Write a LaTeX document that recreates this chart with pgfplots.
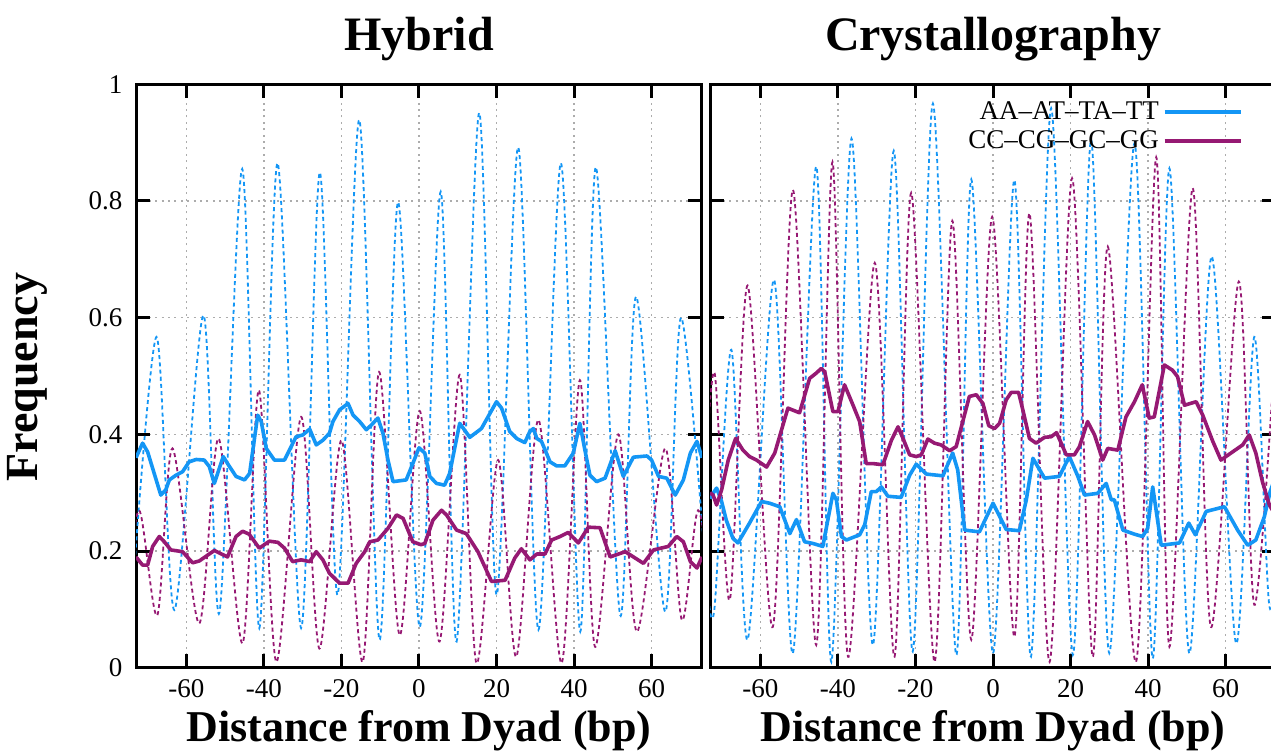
\documentclass[border=0pt]{standalone}
\usepackage{fontspec}
\setmainfont{Liberation Serif}
\usepackage{pgfplots}
\pgfplotsset{compat=1.18}

\definecolor{atblue}{RGB}{20,150,245}
\definecolor{gcpurple}{RGB}{150,25,115}

\pgfplotsset{
  dnapanel/.style={
    scale only axis, width=283pt, height=291.75pt,
    xmin=-73, xmax=73, ymin=0, ymax=1,
    xtick={-60,-40,...,60}, ytick={0,0.2,0.4,0.6,0.8,1},
    grid=major,
    major grid style={gray!65, line width=0.8pt, dash pattern=on 1pt off 2.2pt},
    axis line style={line width=1.5pt},
    every tick/.style={black, line width=1.5pt},
    major tick length=7pt,
    tick label style={font=\fontsize{13.5}{16}\selectfont},
    xticklabel style={yshift=-2.5pt},
    yticklabel style={xshift=-3.3pt},
    /pgf/number format/assume math mode=true,
  },
  raw/.style={line width=0.9pt, dash pattern=on 2pt off 1.6pt, smooth, tension=0.5, forget plot},
  avg/.style={line width=1.8pt, line join=round},
}

\begin{document}
\begin{tikzpicture}

% ---------------- Hybrid ----------------
\begin{axis}[dnapanel, at={(68pt,44.1pt)}, anchor=south west]
  % raw AA/AT/TA/TT
  \addplot[raw, atblue] coordinates {
    (-74,0.12) (-67.7,0.567) (-63.1,0.099) (-55.6,0.604) (-51.5,0.094) (-45.6,0.855)
    (-41.2,0.068) (-36.5,0.865) (-30.4,0.068) (-25.6,0.849) (-21,0.125) (-15.4,0.939)
    (-10.2,0.048) (-5.4,0.798) (0.2,0.07) (5.6,0.816) (9.7,0.045) (15.5,0.951)
    (20,0.125) (25.6,0.892) (30.8,0.065) (36.6,0.865) (41.6,0.062) (45.6,0.858)
    (51.9,0.09) (56,0.636) (63.5,0.096) (67.6,0.60) (74.5,0.12)
  };
  % raw CC/CG/GC/GG
  \addplot[raw, gcpurple] coordinates {
    (-76,0.1) (-72.2,0.27) (-67.5,0.09) (-63.6,0.376) (-56.7,0.076) (-51.7,0.393)
    (-45.5,0.042) (-41.3,0.476) (-36.8,0.01) (-30.4,0.43) (-25.7,0.033) (-20,0.39)
    (-14.5,0.01) (-10.3,0.507) (-5,0.056) (0.2,0.44) (5.3,0.045) (10.5,0.502)
    (14.8,0.008) (20.4,0.356) (25.1,0.019) (30.8,0.425) (36.8,0.008) (41.5,0.493)
    (45.4,0.036) (51.4,0.40) (56.2,0.062) (63.5,0.376) (67.8,0.082) (72,0.27) (76,0.1)
  };
  % averaged
  \addplot[avg, atblue] coordinates {
    (-73,0.36) (-71.3,0.385) (-70,0.37) (-66.6,0.296) (-65.3,0.305) (-64.4,0.322)
    (-62.7,0.33) (-61,0.336) (-59.3,0.353) (-57.5,0.357) (-55.4,0.356) (-54.1,0.345)
    (-52.8,0.316) (-50.5,0.362) (-48.9,0.345) (-47.2,0.328) (-45,0.322) (-43.7,0.333)
    (-41.6,0.433) (-40.7,0.422) (-39.4,0.376) (-37.3,0.356) (-34.7,0.356) (-31.7,0.396)
    (-30,0.399) (-28.2,0.409) (-26.5,0.382) (-24.8,0.39) (-23.1,0.402) (-22.2,0.422)
    (-20.5,0.442) (-18.3,0.453) (-17,0.433) (-15.3,0.422) (-13.6,0.408) (-12.3,0.416)
    (-10.6,0.428) (-9.3,0.402) (-8,0.356) (-6.7,0.319) (-3.3,0.322) (-1.6,0.35)
    (0,0.377) (1.5,0.368) (2.8,0.328) (4.5,0.316) (6.6,0.313) (7.9,0.333)
    (10.5,0.419) (13.1,0.395) (16.1,0.41) (20,0.456) (21.3,0.445) (23.4,0.405)
    (25.2,0.393) (27.3,0.386) (28.6,0.405) (29.5,0.41) (30.4,0.393) (31.6,0.388)
    (33.8,0.353) (35.5,0.346) (37.6,0.346) (39.8,0.368) (41.5,0.419) (42.8,0.373)
    (44.1,0.33) (45.8,0.319) (48,0.325) (50.6,0.372) (52.7,0.328) (55.3,0.361)
    (58.8,0.363) (60,0.356) (61.8,0.328) (63.9,0.325) (66.1,0.296) (68.2,0.322)
    (70,0.368) (71.7,0.388) (73,0.36)
  };
  \addplot[avg, gcpurple] coordinates {
    (-73,0.19) (-71.3,0.176) (-70,0.176) (-68.7,0.208) (-67,0.225) (-65.7,0.216)
    (-64,0.202) (-61,0.199) (-58.4,0.18) (-56.7,0.183) (-52.8,0.201) (-49.4,0.19)
    (-47.2,0.225) (-45.5,0.234) (-43.8,0.229) (-41.2,0.205) (-38.6,0.217) (-36.4,0.215)
    (-34.7,0.205) (-32.6,0.182) (-30.4,0.185) (-28.2,0.182) (-26.5,0.199) (-24.8,0.185)
    (-23.1,0.162) (-20.5,0.145) (-18.3,0.145) (-16.2,0.179) (-14,0.199) (-12.7,0.216)
    (-10.6,0.219) (-8,0.239) (-5.8,0.262) (-4.1,0.256) (-1.6,0.216) (0.5,0.211)
    (1.5,0.213) (3.6,0.253) (5.8,0.27) (7.1,0.262) (9.7,0.236) (12.2,0.23)
    (15.2,0.199) (18.7,0.148) (22.2,0.15) (24.7,0.188) (26.4,0.204) (28.6,0.185)
    (30.4,0.195) (32.5,0.195) (34.2,0.219) (36.4,0.225) (38.5,0.232) (41.1,0.214)
    (43.7,0.241) (46.7,0.24) (49.3,0.19) (53.2,0.199) (57.9,0.179) (60.5,0.202)
    (64.3,0.208) (66.5,0.225) (68.2,0.216) (70,0.182) (71.7,0.171) (73,0.19)
  };
\end{axis}

% ---------------- Crystallography ----------------
\begin{axis}[dnapanel, at={(355pt,44.1pt)}, anchor=south west,
  yticklabels={},
  legend plot pos=right,
  legend cell align=right,
  legend style={at={(rel axis cs:0.952,0.985)}, anchor=north east, draw=none, fill=none,
    font=\fontsize{13.5}{16}\selectfont, row sep=0pt},
  legend image code/.code={\draw[#1] (0pt,0pt) -- (38pt,0pt);},
]
  \addplot[raw, atblue] coordinates {
    (-73.5,0.13) (-71.8,0.105) (-67.5,0.545) (-63.3,0.048) (-56.5,0.665) (-51.6,0.025)
    (-45.6,0.859) (-41.7,0.01) (-36.5,0.907) (-31,0.039) (-25.6,0.886) (-20.7,0.028)
    (-15.5,0.967) (-9.5,0.022) (-5.6,0.837) (0,0.025) (5.5,0.836) (9.8,0.019)
    (15,0.959) (20.6,0.022) (25.3,0.905) (30,0.025) (36.5,0.899) (41.2,0.016)
    (45.5,0.856) (50.6,0.025) (56.4,0.705) (62.7,0.042) (67.4,0.567) (71.3,0.105) (74,0.3)
  };
  \addplot[raw, gcpurple] coordinates {
    (-74.5,0.3) (-71.8,0.505) (-67.9,0.116) (-63.3,0.655) (-56.8,0.07) (-51.6,0.819)
    (-45.6,0.039) (-41.4,0.867) (-37.4,0.019) (-30.5,0.694) (-25.4,0.019) (-21.1,0.814)
    (-15.1,0.01) (-10.5,0.766) (-5.6,0.048) (-0.2,0.773) (5.5,0.053) (9.4,0.779)
    (14.6,0.01) (20.4,0.839) (25.7,0.019) (29.6,0.722) (36.9,0.01) (42.1,0.875)
    (45.5,0.036) (51.5,0.822) (56.2,0.07) (63.4,0.662) (67.4,0.108) (72.8,0.55)
  };
  \addplot[avg, atblue] coordinates {
    (-73,0.29) (-72.2,0.299) (-71.3,0.308) (-70,0.285) (-68.8,0.253) (-67.1,0.222)
    (-65.8,0.214) (-62.8,0.248) (-59.7,0.285) (-57.6,0.282) (-55,0.276) (-52.4,0.23)
    (-50.7,0.254) (-48.6,0.216) (-46.4,0.213) (-43.9,0.208) (-41.3,0.299) (-40.4,0.288)
    (-39.1,0.225) (-37.8,0.219) (-34.4,0.228) (-33.1,0.245) (-31.4,0.302) (-30.1,0.302)
    (-28.8,0.31) (-27.1,0.294) (-23.7,0.292) (-21.5,0.33) (-19.8,0.349) (-17.2,0.332)
    (-12.9,0.329) (-12.1,0.342) (-10.4,0.368) (-9.1,0.339) (-7.3,0.236) (-3.5,0.233)
    (0,0.282) (3.4,0.237) (6.8,0.235) (8.6,0.288) (10.3,0.359) (13.3,0.325)
    (17.1,0.328) (19.7,0.362) (21.9,0.328) (23.6,0.296) (27,0.299) (29.2,0.316)
    (30.5,0.288) (31.3,0.288) (33.5,0.236) (36.5,0.229) (38.6,0.225) (39.9,0.239)
    (41.2,0.31) (43.4,0.21) (48.1,0.214) (50.5,0.248) (52.2,0.228) (55,0.268)
    (59.7,0.276) (63.1,0.236) (65.7,0.21) (67.8,0.219) (70,0.259) (71.5,0.302) (73,0.33)
  };
  \addlegendentry{AA--AT--TA--TT}
  \addplot[avg, gcpurple] coordinates {
    (-73,0.30) (-72.2,0.296) (-71.3,0.279) (-70,0.305) (-68.3,0.356) (-66.4,0.393)
    (-64.5,0.373) (-62.8,0.362) (-61,0.356) (-58.4,0.344) (-56.3,0.368) (-52.9,0.445)
    (-49.9,0.437) (-47.3,0.496) (-45.6,0.505) (-44.3,0.513) (-43.4,0.507) (-41.3,0.439)
    (-40,0.439) (-38.3,0.485) (-36.1,0.45) (-34.4,0.422) (-32.7,0.35) (-31,0.35)
    (-28.4,0.348) (-26.2,0.39) (-24.5,0.413) (-23.2,0.393) (-21.5,0.365) (-19.8,0.362)
    (-18.5,0.365) (-16.8,0.392) (-15.1,0.385) (-13.4,0.382) (-11.2,0.372) (-9.5,0.379)
    (-7.8,0.422) (-6.1,0.465) (-4.3,0.468) (-2.6,0.453) (-1.1,0.415) (0.4,0.41)
    (1.7,0.419) (3.4,0.459) (4.7,0.472) (6.6,0.472) (7.7,0.442) (9.4,0.393)
    (11.1,0.385) (13.3,0.395) (15,0.396) (16.4,0.403) (18.9,0.365) (21,0.365)
    (22.3,0.379) (24.4,0.422) (26.2,0.399) (28.3,0.356) (29.6,0.376) (32.2,0.373)
    (34.3,0.43) (36.5,0.456) (38.5,0.485) (40.3,0.428) (41.6,0.43) (44.2,0.519)
    (46.3,0.51) (47.6,0.499) (49.4,0.45) (52.4,0.456) (54.1,0.433) (56.7,0.388)
    (58.8,0.356) (61.8,0.37) (64.4,0.382) (66.1,0.399) (67.8,0.368) (69.5,0.319)
    (71.3,0.279) (73,0.26)
  };
  \addlegendentry{CC--CG--GC--GG}
\end{axis}

% titles and axis labels
\node[anchor=base, font=\fontsize{24}{28}\selectfont\bfseries] at (209.5pt,352.5pt) {Hybrid};
\node[anchor=base, font=\fontsize{24}{28}\selectfont\bfseries] at (496.5pt,352.5pt) {Crystallography};
\node[anchor=base, font=\fontsize{22}{26}\selectfont\bfseries] at (209.5pt,7pt) {Distance from Dyad (bp)};
\node[anchor=base, font=\fontsize{22}{26}\selectfont\bfseries] at (496.5pt,7pt) {Distance from Dyad (bp)};
\node[anchor=base, rotate=90, font=\fontsize{23}{27}\selectfont\bfseries] at (19pt,189.5pt) {Frequency};

\pgfresetboundingbox
\useasboundingbox (0pt,0pt) rectangle (635.5pt,378pt);
\end{tikzpicture}
\end{document}
